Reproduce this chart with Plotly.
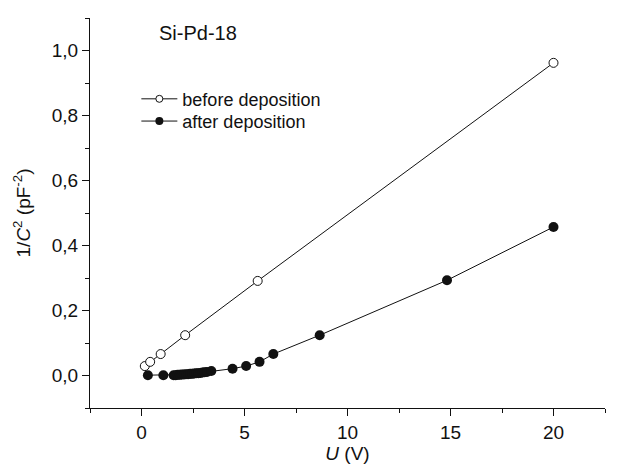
import plotly.graph_objects as go

# before deposition (open circles)
u_before = [0.16, 0.42, 0.93, 2.12, 5.64, 20.0]
c_before = [0.029, 0.042, 0.066, 0.124, 0.291, 0.962]

# after deposition (filled circles)
u_after = [0.31, 1.06, 1.56, 1.66, 1.76, 1.86, 1.96, 2.06, 2.16, 2.26, 2.36,
           2.46, 2.56, 2.66, 2.76, 2.86, 2.96, 3.06, 3.18, 3.39,
           4.42, 5.08, 5.73, 6.4, 8.65, 14.83, 20.0]
c_after = [0.001, 0.001, 0.001, 0.001, 0.002, 0.002, 0.003, 0.003, 0.004, 0.004, 0.005,
           0.005, 0.006, 0.007, 0.007, 0.008, 0.009, 0.010, 0.011, 0.014,
           0.021, 0.029, 0.042, 0.066, 0.124, 0.293, 0.457]

x_ticks = [0, 5, 10, 15, 20]
y_ticks = [0.0, 0.2, 0.4, 0.6, 0.8, 1.0]

font = "Liberation Sans, Arial, sans-serif"
ink = "#111111"

fig = go.Figure()

fig.add_trace(go.Scatter(
    x=u_before, y=c_before, mode="lines+markers",
    line=dict(color=ink, width=1),
    marker=dict(symbol="circle", size=9, color="white", line=dict(color=ink, width=1)),
    showlegend=False
))
fig.add_trace(go.Scatter(
    x=u_after, y=c_after, mode="lines+markers",
    line=dict(color=ink, width=1),
    marker=dict(symbol="circle", size=10, color=ink, line=dict(color=ink, width=0)),
    showlegend=False
))

# legend entries with the small symbols of the original (one legend box per row)
fig.add_trace(go.Scatter(
    x=[None], y=[None], mode="lines+markers", name="before deposition",
    line=dict(color=ink, width=1), legend="legend",
    marker=dict(symbol="circle", size=7, color="white", line=dict(color=ink, width=1))
))
fig.add_trace(go.Scatter(
    x=[None], y=[None], mode="lines+markers", name="after deposition",
    line=dict(color=ink, width=1), legend="legend2",
    marker=dict(symbol="circle", size=8, color=ink)
))

fig.add_annotation(
    text="Si-Pd-18", xref="paper", yref="paper", x=0.13, y=0.962,
    xanchor="left", yanchor="middle", showarrow=False,
    font=dict(family=font, size=20, color=ink)
)

legend_style = dict(
    xanchor="left", yanchor="middle", bgcolor="rgba(0,0,0,0)",
    font=dict(family=font, size=18, color=ink), itemwidth=36
)

fig.update_layout(
    width=622, height=473,
    margin=dict(l=82, r=25, t=10, b=73),
    paper_bgcolor="white", plot_bgcolor="white",
    separators=",.",
    font=dict(family=font, size=16, color=ink),
    legend=dict(x=0.09, y=0.792, **legend_style),
    legend2=dict(x=0.09, y=0.735, **legend_style),
    xaxis=dict(
        range=[-2.5, 22.5], tickvals=x_ticks, showgrid=False, zeroline=False,
        showline=True, linecolor=ink, linewidth=1,
        ticks="outside", ticklen=7, tickcolor=ink,
        minor=dict(dtick=2.5, tick0=0, ticks="outside", ticklen=4, tickcolor=ink, showgrid=False),
        tickfont=dict(size=19),
        title=dict(text="<i>U</i> (V)", font=dict(size=19), standoff=1)
    ),
    yaxis=dict(
        range=[-0.1, 1.1], tickvals=y_ticks, tickformat=".1f", showgrid=False, zeroline=False,
        showline=True, linecolor=ink, linewidth=1,
        ticks="outside", ticklen=7, tickcolor=ink,
        minor=dict(dtick=0.1, tick0=0, ticks="outside", ticklen=4, tickcolor=ink, showgrid=False),
        tickfont=dict(size=19),
        title=dict(text="1/<i>C</i><sup>2</sup> (pF<sup>-2</sup>)", font=dict(size=19), standoff=16)
    )
)

fig.write_html("out.html")
